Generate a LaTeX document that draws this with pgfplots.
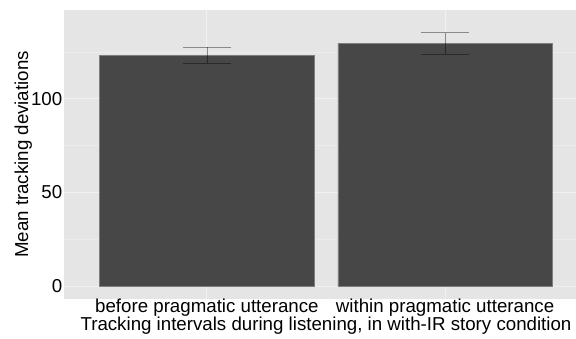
\documentclass[border=0pt]{standalone}
\usepackage{fontspec}
\setmainfont{Liberation Sans}
\usepackage{pgfplots}
\pgfplotsset{compat=1.18}
\definecolor{panelbg}{HTML}{E5E5E5}
\definecolor{barfill}{HTML}{474747}
\begin{document}
\fontsize{18.7}{22}\selectfont
\begin{tikzpicture}
\useasboundingbox (-64pt,-39pt) rectangle (512pt,299pt);
\begin{axis}[
  at={(0pt,0pt)}, anchor=south west,
  scale only axis, width=524pt, height=289pt,
  xmin=0.4, xmax=2.6, ymin=-6.8, ymax=147.3,
  xtick={1,2},
  xticklabels={before pragmatic utterance, within pragmatic utterance},
  ytick={0,50,100}, minor ytick={25,75,125},
  grid=both,
  major grid style={white!45!panelbg, line width=1pt},
  minor grid style={white!25!panelbg, line width=0.6pt},
  axis line style={draw=none},
  major tick length=0pt, minor tick length=0pt,
  axis background/.style={fill=panelbg},
  /pgf/number format/assume math mode=true,
  ticklabel style={font=\fontsize{18.7}{22}\selectfont, text=black},
  xticklabel style={anchor=base, yshift=-13pt, inner sep=0pt},
  yticklabel style={anchor=east, inner sep=0pt, xshift=-1.5pt},
  xlabel={Tracking intervals during listening, in with-IR story condition},
  ylabel={Mean tracking deviations},
  label style={font=\fontsize{18.7}{22}\selectfont},
  xlabel style={at={(axis description cs:0.5,-0.1073)}, anchor=base, inner sep=0pt},
  ylabel style={at={(axis description cs:-0.0687,0.5)}, anchor=base, inner sep=0pt},
  clip=false,
]
\addplot[ybar, bar width=214.5pt, bar shift=0pt, fill=barfill, draw=barfill!70!white, line width=0.5pt,
  error bars/.cd, y dir=both, y explicit,
  error bar style={black, opacity=0.4, line width=0.7pt},
  error mark options={rotate=90, mark size=23.8pt, black, opacity=0.4, line width=0.7pt}]
  coordinates {(1,123.15) +- (0,4.25) (2,129.45) +- (0,5.75)};
\end{axis}
\end{tikzpicture}
\end{document}
